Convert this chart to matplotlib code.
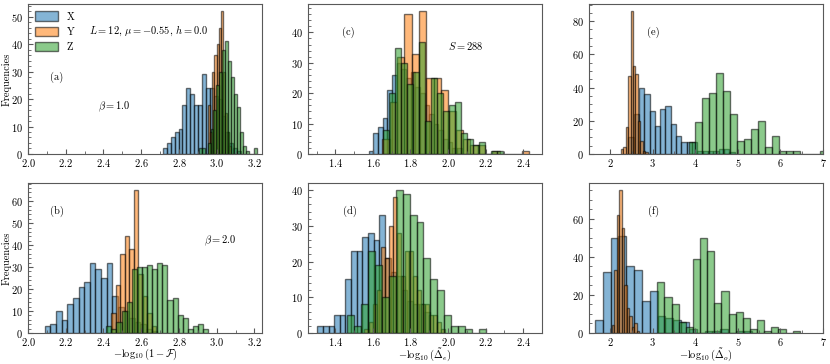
import numpy as np
import matplotlib
matplotlib.use("Agg")
import matplotlib.pyplot as plt
from matplotlib.ticker import MultipleLocator, AutoMinorLocator

plt.rcParams['font.family'] = 'serif'
plt.rcParams['font.serif'] = ['cmr10']
plt.rcParams['mathtext.fontset'] = 'cm'
plt.rcParams['axes.formatter.use_mathtext'] = True
plt.rcParams['font.size'] = 7.5

LABELS = ['X', 'Y', 'Z']
COLORS = ['#1f77b4', '#ff7f0e', '#2ca02c']

# panel (a): beta = 1.0, fidelity
A_START = [2.715, 2.955, 2.905]
A_WIDTH = [0.0207, 0.011, 0.0155]
A_X = [2, 4, 6, 8, 9, 18, 24, 22, 18, 18, 29, 24, 24, 21, 20, 14, 8, 4, 2, 1]
A_Y = [18, 8, 30, 36, 40, 46, 52, 30, 15, 8, 3]
A_Z = [2, 2, 0, 4, 9, 16, 25, 30, 38, 41, 34, 28, 22, 17, 8, 3, 1, 0, 0, 2]

# panel (b): beta = 2.0, fidelity
B_START = [2.089, 2.44, 2.415]
B_WIDTH = [0.0298, 0.024, 0.027]
B_X = [3, 4, 10, 6, 13, 16, 21, 23, 32, 29, 25, 32, 17, 12, 10, 7, 5, 4, 2, 1]
B_Y = [9, 22, 36, 44, 38, 65, 27, 17, 9, 3]
B_Z = [3, 2, 5, 10, 14, 29, 30, 30, 31, 29, 32, 31, 15, 16, 8, 7, 2, 3, 4, 2]

# panel (c): beta = 1.0, Delta_e
C_START = [1.577, 1.65, 1.654]
C_WIDTH = [0.0248, 0.039, 0.032]
C_X = [1, 7, 9, 12, 21, 26, 30, 28, 25, 27, 22, 20, 16, 13, 10, 8, 5, 4, 2, 2]
C_Y = [5, 17, 32, 46, 33, 47, 25, 25, 21, 14, 8, 5, 3, 3, 0, 1, 0, 0, 0, 1]
C_Z = [8, 20, 35, 30, 23, 27, 37, 11, 25, 20, 14, 16, 17, 7, 5, 3, 4, 0, 1, 1]

# panel (d): beta = 2.0, Delta_e
D_START = [1.304, 1.555, 1.462]
D_WIDTH = [0.03, 0.0215, 0.037]
D_X = [2, 2, 2, 5, 5, 15, 23, 23, 27, 28, 26, 33, 21, 17, 16, 12, 9, 8, 8, 6]
D_Y = [1, 3, 8, 12, 24, 21, 30, 38, 28, 16, 23, 23, 16, 12, 8, 8, 5, 5, 3, 1]
D_Z = [5, 2, 8, 23, 19, 10, 16, 40, 39, 33, 31, 21, 15, 12, 5, 2, 2, 1, 0, 1]

# panel (e): beta = 1.0, Delta_o
E_START = [2.424, 2.25, 3.84]
E_WIDTH = [0.1248, 0.057, 0.163]
E_X = [10, 24, 40, 36, 26, 17, 27, 29, 18, 11, 7, 7, 7, 2, 2, 2, 2, 3, 3, 1]
E_Y = [3, 4, 16, 47, 86, 53, 48, 20, 8, 2, 1]
E_Z = [7, 19, 34, 37, 49, 38, 24, 8, 9, 15, 20, 4, 11, 2, 2, 2, 0, 0, 0, 2]

# panel (f): beta = 2.0, Delta_o
F_START = [1.64, 2.04, 3.105]
F_WIDTH = [0.184, 0.058, 0.1675]
F_X = [7, 32, 50, 51, 35, 33, 17, 22, 9, 8, 7, 6, 2, 0, 1, 1, 2, 0, 1, 1]
F_Y = [4, 33, 62, 75, 55, 25, 13, 9, 3, 5, 1]
F_Z = [27, 19, 15, 6, 3, 39, 50, 43, 16, 22, 10, 11, 8, 2, 7, 1, 3, 2, 0, 1]

fig = plt.figure(figsize=(8.3, 3.64), dpi=100)

col_x = [0.0337, 0.371, 0.7096]
row_y = [0.577, 0.0852]
W, H = 0.282, 0.412

panels = [
    (0, 0, A_START, A_WIDTH, [A_X, A_Y, A_Z], (2.0, 3.24), 0.2, '(a)'),
    (0, 1, B_START, B_WIDTH, [B_X, B_Y, B_Z], (2.0, 3.24), 0.2, '(b)'),
    (1, 0, C_START, C_WIDTH, [C_X, C_Y, C_Z], (1.254, 2.5), 0.2, '(c)'),
    (1, 1, D_START, D_WIDTH, [D_X, D_Y, D_Z], (1.254, 2.5), 0.2, '(d)'),
    (2, 0, E_START, E_WIDTH, [E_X, E_Y, E_Z], (1.5, 7.0), 1.0, '(e)'),
    (2, 1, F_START, F_WIDTH, [F_X, F_Y, F_Z], (1.5, 7.0), 1.0, '(f)'),
]

axes = {}
for col, row, starts, widths, counts, xlim, major, tag in panels:
    ax = fig.add_axes([col_x[col], row_y[row], W, H])
    for s, w, c, lab, colr in zip(starts, widths, counts, LABELS, COLORS):
        edges = s + w * np.arange(len(c) + 1)
        ax.hist(edges[:-1], bins=edges, weights=c, color=colr, alpha=0.55,
                edgecolor='black', linewidth=1.0, label=lab)
    ax.set_xlim(*xlim)
    ax.xaxis.set_major_locator(MultipleLocator(major))
    ax.xaxis.set_minor_locator(AutoMinorLocator(2))
    ax.yaxis.set_minor_locator(AutoMinorLocator())
    ax.tick_params(which='both', direction='in', top=False, right=False,
                   color='0.35', labelsize=7.5)
    ax.tick_params(axis='x', pad=2)
    ax.tick_params(which='major', length=3.5)
    ax.tick_params(which='minor', length=2)
    for sp in ax.spines.values():
        sp.set_color('0.35')
    ypos = 0.51 if tag == '(a)' else 0.813
    xpos = {'(a)': 0.124, '(b)': 0.124, '(c)': 0.174, '(d)': 0.179,
            '(e)': 0.277, '(f)': 0.277}[tag]
    ax.text(xpos, ypos, tag, transform=ax.transAxes, ha='center', va='center',
            fontsize=7.5)
    axes[tag] = ax

for tag in ['(a)', '(b)']:
    axes[tag].set_ylabel('Frequencies')
    axes[tag].yaxis.set_label_coords(-0.068, 0.5)

axes['(a)'].legend(loc='upper left', frameon=False, fontsize=7.5,
                   handlelength=2.2, handleheight=1.0, borderaxespad=0.3,
                   labelspacing=0.5)
axes['(a)'].text(0.513, 0.82, r'$L=12,\,\mu=-0.55,\,h=0.0$',
                 transform=axes['(a)'].transAxes, ha='center', va='center', fontsize=7.5)
axes['(a)'].text(0.37, 0.313, r'$\beta=1.0$', transform=axes['(a)'].transAxes,
                 ha='center', va='center', fontsize=7.5)
axes['(b)'].text(0.82, 0.615, r'$\beta=2.0$', transform=axes['(b)'].transAxes,
                 ha='center', va='center', fontsize=7.5)
axes['(c)'].text(0.672, 0.72, r'$S=288$', transform=axes['(c)'].transAxes,
                 ha='center', va='center', fontsize=7.5)

xlabels = {'(b)': r'$-\log_{10}(1-\mathcal{F})$',
           '(d)': r'$-\log_{10}(\tilde{\Delta}_e)$',
           '(f)': r'$-\log_{10}(\tilde{\Delta}_o)$'}
for tag, text in xlabels.items():
    axes[tag].set_xlabel(text)
    axes[tag].xaxis.set_label_coords(0.5, -0.094)

fig.savefig('out.png', dpi=100)
